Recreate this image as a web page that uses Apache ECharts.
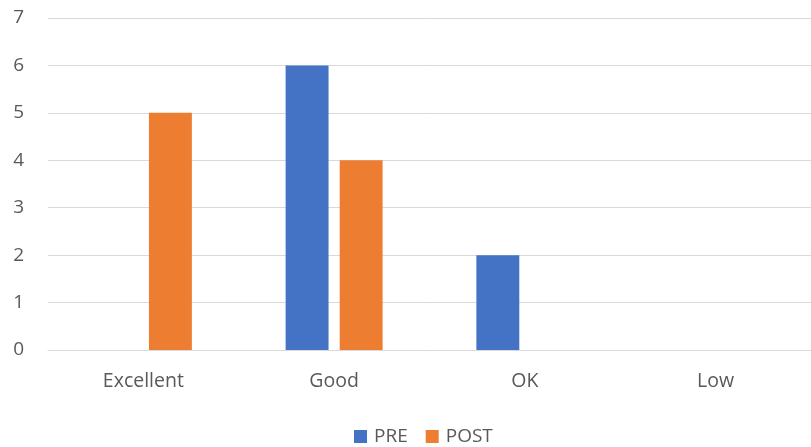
<!DOCTYPE html>
<html>
<head>
<meta charset="utf-8">
<script src="https://cdn.jsdelivr.net/npm/echarts@6/dist/echarts.min.js"></script>
<style>
html,body{margin:0;padding:0;background:#fff;}
#chart{width:811px;height:447px;}
</style>
</head>
<body>
<div id="chart"></div>
<script>
// Ratings before and after
const categories = ['Excellent', 'Good', 'OK', 'Low'];
const preValues = [0, 6, 2, 0];
const postValues = [5, 4, 0, 0];
const yTicks = [0, 1, 2, 3, 4, 5, 6, 7];

const chart = echarts.init(document.getElementById('chart'));
const font = '"Open Sans", "Noto Sans", sans-serif';
chart.setOption({
  animation: false,
  grid: { left: 48, width: 770, top: 18, bottom: 97 },
  legend: {
    top: 422,
    left: 349,
    itemWidth: 13,
    itemHeight: 13,
    itemGap: 18,
    icon: 'rect',
    textStyle: { color: '#595959', fontSize: 19, fontFamily: font, padding: [0, 0, 0, 2] },
    data: ['PRE', 'POST']
  },
  xAxis: {
    type: 'category',
    data: categories,
    axisLine: { lineStyle: { color: '#d9d9d9', width: 1 } },
    axisTick: { show: false },
    axisLabel: { color: '#595959', fontSize: 19.5, fontFamily: font, margin: 21 }
  },
  yAxis: {
    type: 'value',
    min: yTicks[0],
    max: yTicks[yTicks.length - 1],
    interval: 1,
    axisLine: { show: false },
    axisTick: { show: false },
    splitLine: { lineStyle: { color: '#d9d9d9', width: 1 } },
    axisLabel: { color: '#595959', fontSize: 19, fontFamily: font, margin: 24 }
  },
  series: [
    {
      name: 'PRE', type: 'bar', data: preValues,
      barWidth: '22.5%', barGap: '26%',
      itemStyle: { color: '#4472C4' }
    },
    {
      name: 'POST', type: 'bar', data: postValues,
      barWidth: '22.5%', barGap: '26%',
      itemStyle: { color: '#ED7D31' }
    }
  ]
});
</script>
</body>
</html>
